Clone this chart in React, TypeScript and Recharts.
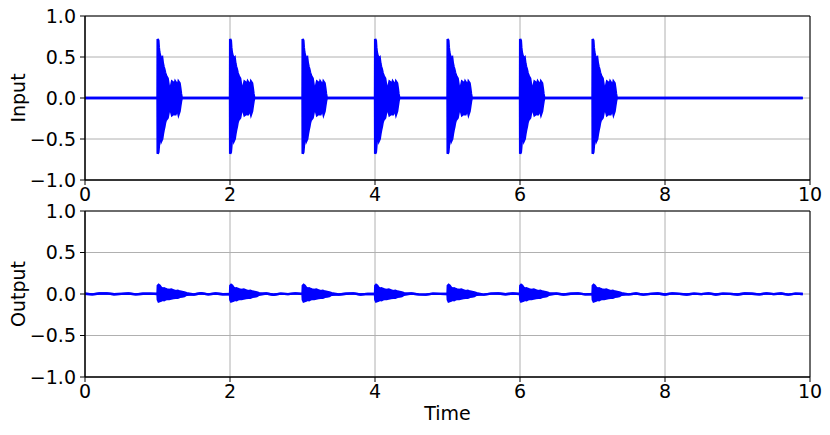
import React from 'react';
import { ComposedChart, Area, XAxis, YAxis, CartesianGrid, ReferenceArea } from 'recharts';

// ---- tick labels ----
const timeTicks = [0, 2, 4, 6, 8, 10];
const ampTicks = [-1, -0.5, 0, 0.5, 1];

// ---- event onsets (s) and signal end ----
const onsets = [1, 2, 3, 4, 5, 6, 7];
const signalStart = 0;
const signalEnd = 9.9;

// ---- input burst envelope (offset from onset, upper and lower peak values) ----
const inputBurstOffsets = [0, 0.002, 0.012, 0.018, 0.025, 0.035, 0.045, 0.055, 0.065, 0.075, 0.085, 0.095, 0.105, 0.115, 0.125, 0.14, 0.155, 0.17, 0.185, 0.2, 0.215, 0.23, 0.245, 0.26, 0.275, 0.29, 0.305, 0.315, 0.325, 0.335];
const inputBurstUpper = [0, 0.72, 0.7, 0.62, 0.56, 0.52, 0.5, 0.48, 0.49, 0.42, 0.38, 0.35, 0.31, 0.28, 0.26, 0.24, 0.15, 0.12, 0.14, 0.2, 0.19, 0.14, 0.2, 0.18, 0.12, 0.2, 0.18, 0.12, 0.05, 0];
const inputBurstLower = [0, -0.68, -0.66, -0.6, -0.52, -0.47, -0.45, -0.52, -0.5, -0.44, -0.39, -0.35, -0.3, -0.27, -0.26, -0.24, -0.17, -0.15, -0.16, -0.21, -0.2, -0.13, -0.21, -0.17, -0.14, -0.2, -0.16, -0.1, -0.04, 0];

// ---- output burst envelope ----
const outputBurstOffsets = [0, 0.004, 0.015, 0.03, 0.05, 0.07, 0.09, 0.11, 0.13, 0.16, 0.19, 0.22, 0.25, 0.28, 0.31, 0.34, 0.37, 0.4];
const outputBurstUpper = [0, 0.1, 0.11, 0.1, 0.075, 0.065, 0.07, 0.06, 0.055, 0.05, 0.055, 0.045, 0.035, 0.04, 0.03, 0.025, 0.02, 0.01];
const outputBurstLower = [0, -0.07, -0.09, -0.085, -0.08, -0.07, -0.075, -0.065, -0.06, -0.06, -0.055, -0.05, -0.045, -0.045, -0.035, -0.03, -0.025, -0.01];

// ---- output residual wobble between bursts, sampled every 0.1 s (null = inside a burst) ----
const outputWobbleStep = 0.1;
const outputWobble = [
  0.003, -0.005, 0.006, 0.008, -0.003, 0.002, 0.006, -0.005, 0.003, 0.004,
  null, null, null, null, null, -0.006, 0.008, -0.004, 0.006, -0.003,
  null, null, null, null, null, 0.006, -0.008, 0.004, -0.002, 0.007,
  null, null, null, null, null, -0.006, 0.003, 0.008, -0.006, 0.002,
  null, null, null, null, null, 0.006, -0.004, -0.008, 0.005, 0.002,
  null, null, null, null, null, -0.007, 0.004, 0.006, -0.003, 0.006,
  null, null, null, null, null, 0.005, -0.006, 0.003, 0.007, -0.005,
  null, null, null, null, null, -0.004, 0.006, -0.008, 0.002, 0.006,
  -0.005, 0.007, 0.002, -0.006, 0.005, -0.002, 0.008, -0.006, 0.004, 0.001,
  -0.006, 0.006, 0.003, -0.005, 0.008, -0.002, 0.006, -0.007, 0.004, 0.0,
];

type Pt = { t: number; v: [number, number] };

function buildInput(): Pt[] {
  const pts: Pt[] = [{ t: signalStart, v: [0, 0] }];
  onsets.forEach((o) => {
    inputBurstOffsets.forEach((off, i) => {
      pts.push({ t: o + off, v: [inputBurstLower[i], inputBurstUpper[i]] });
    });
  });
  pts.push({ t: signalEnd, v: [0, 0] });
  return pts;
}

function buildOutput(): Pt[] {
  const pts: Pt[] = [];
  outputWobble.forEach((w, i) => {
    if (w !== null) pts.push({ t: +(i * outputWobbleStep).toFixed(2), v: [w, w] });
  });
  onsets.forEach((o) => {
    outputBurstOffsets.forEach((off, i) => {
      pts.push({ t: o + off, v: [outputBurstLower[i], outputBurstUpper[i]] });
    });
  });
  pts.sort((a, b) => a.t - b.t);
  return pts;
}

const inputData = buildInput();
const outputData = buildOutput();

const FONT = 'DejaVu Sans';
const FS = 19;
const tickStyle = { fill: '#000', fontSize: FS, fontFamily: FONT };
const fmtAmp = (v: number) => (v < 0 ? '\u2212' + Math.abs(v).toFixed(1) : v.toFixed(1));

function Panel({ data, height, marginBottom }: { data: Pt[]; height: number; marginBottom: number }) {
  return (
    <ComposedChart
      width={830}
      height={height}
      data={data}
      margin={{ top: 16, right: 20, bottom: marginBottom, left: 0 }}
    >
      <CartesianGrid stroke="#b0b0b0" strokeWidth={1} />
      <XAxis
        dataKey="t"
        type="number"
        domain={[0, 10]}
        ticks={timeTicks}
        allowDataOverflow
        height={30}
        tickSize={5}
        tickMargin={3}
        tick={tickStyle}
        tickLine={{ stroke: '#000' }}
        axisLine={{ stroke: '#000' }}
      />
      <YAxis
        type="number"
        domain={[-1, 1]}
        ticks={ampTicks}
        allowDataOverflow
        width={85}
        tickSize={5}
        tickMargin={4}
        tick={tickStyle}
        tickFormatter={fmtAmp}
        tickLine={{ stroke: '#000' }}
        axisLine={{ stroke: '#000' }}
      />
      <Area
        type="linear"
        dataKey="v"
        stroke="#0000ff"
        strokeWidth={2.4}
        fill="#0000ff"
        fillOpacity={1}
        dot={false}
        activeDot={false}
        isAnimationActive={false}
      />
      <ReferenceArea x1={0} x2={10} y1={-1} y2={1} fill="none" stroke="#000" strokeWidth={1} ifOverflow="visible" />
    </ComposedChart>
  );
}

export default function App() {
  return (
    <div style={{ position: 'absolute', left: 0, top: 0, width: 830, height: 435, background: '#fff' }}>
      <div style={{ position: 'absolute', left: 0, top: 0 }}>
        <Panel data={inputData} height={210} marginBottom={0} />
      </div>
      <div style={{ position: 'absolute', left: 0, top: 195 }}>
        <Panel data={outputData} height={240} marginBottom={28} />
      </div>
      <svg width={830} height={435} style={{ position: 'absolute', left: 0, top: 0, pointerEvents: 'none' }}>
        <text x={18} y={98} dy="0.35em" textAnchor="middle" transform="rotate(-90 18 98)" fontFamily={FONT} fontSize={FS} fill="#000">Input</text>
        <text x={18} y={294} dy="0.35em" textAnchor="middle" transform="rotate(-90 18 294)" fontFamily={FONT} fontSize={FS} fill="#000">Output</text>
        <text x={447.5} y={420} textAnchor="middle" fontFamily={FONT} fontSize={FS} fill="#000">Time</text>
      </svg>
    </div>
  );
}
